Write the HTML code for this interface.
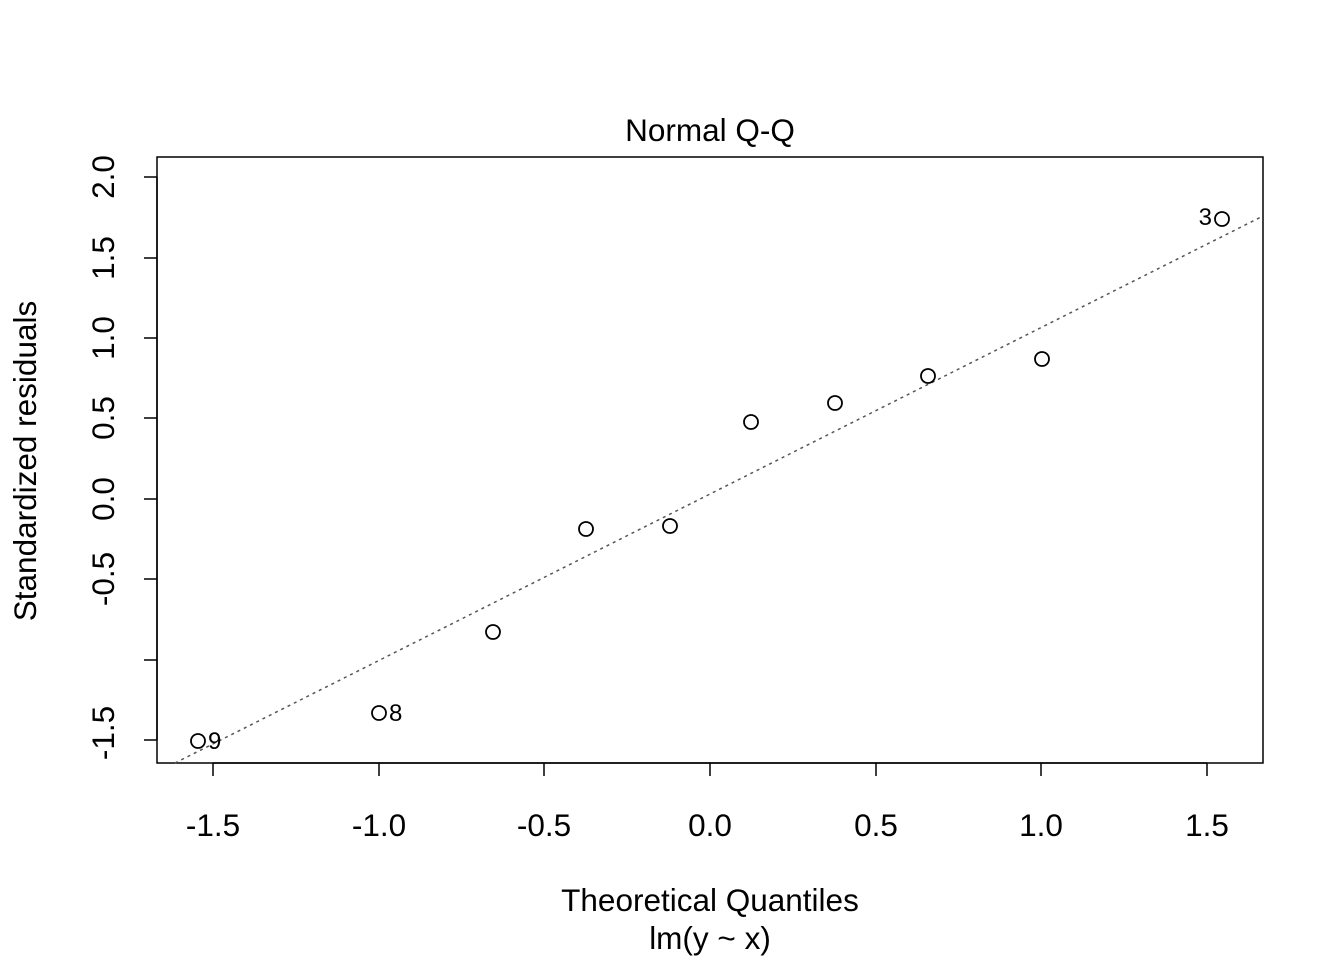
<!DOCTYPE html>
<html><head><meta charset="utf-8"><style>
html,body{margin:0;padding:0;background:#fff;}
svg{display:block;}
text{font-family:"Liberation Sans",Arial,sans-serif;fill:#000;}
</style></head><body>
<svg width="1344" height="960" viewBox="0 0 1344 960" xmlns="http://www.w3.org/2000/svg">
<rect x="0" y="0" width="1344" height="960" fill="#fff"/>
<rect x="157" y="157" width="1106" height="606" fill="none" stroke="#000" stroke-width="1.5"/>
<text x="710" y="141" font-size="31.5" text-anchor="middle">Normal Q-Q</text>
<g stroke="#000" stroke-width="1.5">
<line x1="213" y1="763" x2="1207" y2="763"/>
<line x1="213" y1="763" x2="213" y2="776"/>
<line x1="379" y1="763" x2="379" y2="776"/>
<line x1="544" y1="763" x2="544" y2="776"/>
<line x1="710" y1="763" x2="710" y2="776"/>
<line x1="876" y1="763" x2="876" y2="776"/>
<line x1="1041" y1="763" x2="1041" y2="776"/>
<line x1="1207" y1="763" x2="1207" y2="776"/>
</g>
<g font-size="31.5" text-anchor="middle">
<text x="213" y="836">-1.5</text>
<text x="379" y="836">-1.0</text>
<text x="544" y="836">-0.5</text>
<text x="710" y="836">0.0</text>
<text x="876" y="836">0.5</text>
<text x="1041" y="836">1.0</text>
<text x="1207" y="836">1.5</text>
</g>
<g stroke="#000" stroke-width="1.5">
<line x1="157" y1="177" x2="157" y2="740"/>
<line x1="144" y1="177" x2="157" y2="177"/>
<line x1="144" y1="258" x2="157" y2="258"/>
<line x1="144" y1="338" x2="157" y2="338"/>
<line x1="144" y1="418" x2="157" y2="418"/>
<line x1="144" y1="499" x2="157" y2="499"/>
<line x1="144" y1="579" x2="157" y2="579"/>
<line x1="144" y1="660" x2="157" y2="660"/>
<line x1="144" y1="740" x2="157" y2="740"/>
</g>
<g font-size="31.5" text-anchor="middle">
<text transform="translate(114,177) rotate(-90)">2.0</text>
<text transform="translate(114,258) rotate(-90)">1.5</text>
<text transform="translate(114,338) rotate(-90)">1.0</text>
<text transform="translate(114,418) rotate(-90)">0.5</text>
<text transform="translate(114,499) rotate(-90)">0.0</text>
<text transform="translate(114,579) rotate(-90)">-0.5</text>
<text transform="translate(114,733) rotate(-90)">-1.5</text>
</g>
<text x="710" y="911" font-size="31.5" text-anchor="middle">Theoretical Quantiles</text>
<text x="710" y="949" font-size="31.5" text-anchor="middle">lm(y ~ x)</text>
<text transform="translate(36,461) rotate(-90)" font-size="31.5" text-anchor="middle">Standardized residuals</text>
<line x1="175" y1="763" x2="1263" y2="216" stroke="#555" stroke-width="1.5" stroke-dasharray="3,4"/>
<g fill="none" stroke="#000" stroke-width="1.8">
<circle cx="198" cy="741" r="7"/>
<circle cx="379" cy="713" r="7"/>
<circle cx="493" cy="632" r="7"/>
<circle cx="586" cy="529" r="7"/>
<circle cx="670" cy="526" r="7"/>
<circle cx="751" cy="422" r="7"/>
<circle cx="835" cy="403" r="7"/>
<circle cx="928" cy="376" r="7"/>
<circle cx="1042" cy="359" r="7"/>
<circle cx="1222" cy="219" r="7"/>
</g>
<g font-size="24">
<text x="208" y="749">9</text>
<text x="389" y="721">8</text>
<text x="1212" y="225" text-anchor="end">3</text>
</g>
</svg>
</body></html>
